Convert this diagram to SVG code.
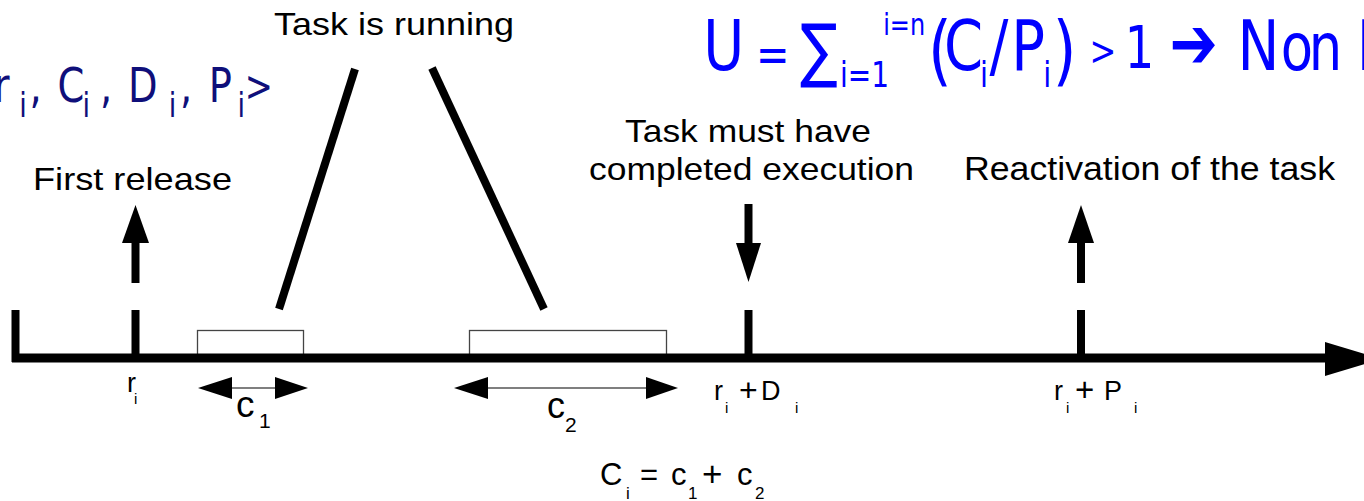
<svg xmlns="http://www.w3.org/2000/svg" width="1364" height="501" viewBox="0 0 1364 501">
<style>
.lbl{font-family:"Liberation Sans",Arial,sans-serif;fill:#000;}
.blue{font-family:"DejaVu Sans",sans-serif;}
.thick{stroke:#000;stroke-width:8;fill:none;}
.box{fill:#fff;stroke:#444;stroke-width:1.3;}
.dim{stroke:#555;stroke-width:1.5;fill:none;}
.head{fill:#000;}
</style>
<rect width="1364" height="501" fill="#fff"/>

<g id="tuple">
<text class="blue" transform="scale(0.8,1)" fill="#0f0f7a" font-size="48"><tspan x="-48" y="102">&lt;r</tspan><tspan x="24" y="117" font-size="34">i</tspan><tspan x="37" y="102">,</tspan><tspan x="72" y="102">C</tspan><tspan x="103" y="117" font-size="34">i</tspan><tspan x="125" y="102">,</tspan><tspan x="160" y="102">D</tspan><tspan x="211" y="117" font-size="34">i</tspan><tspan x="225" y="102">,</tspan><tspan x="261" y="102">P</tspan><tspan x="297" y="117" font-size="34">i</tspan><tspan x="306" y="101" font-size="42">&gt;</tspan></text>
</g>

<g id="formula">
<text class="blue" transform="scale(0.8,1)" fill="#0000ff" font-size="70"><tspan x="879" y="70">U</tspan><tspan x="945" y="72" font-size="50">=</tspan><tspan x="1000" y="74">∑</tspan><tspan x="1050" y="87" font-size="35">i=1</tspan><tspan x="1104" y="35" font-size="30">i=n</tspan><tspan x="1160" y="76" font-size="76">(</tspan><tspan x="1180" y="70">C</tspan><tspan x="1225" y="87" font-size="36">i</tspan><tspan x="1237" y="70">/</tspan><tspan x="1264" y="70">P</tspan><tspan x="1304" y="87" font-size="36">i</tspan><tspan x="1316" y="76" font-size="76">)</tspan><tspan x="1362" y="65" font-size="40">&gt;</tspan><tspan x="1406" y="68" font-size="58">1</tspan><tspan x="1462" y="68" font-size="72" font-weight="bold">➔</tspan><tspan x="1547" y="70">N</tspan><tspan x="1601" y="70" font-size="66">o</tspan><tspan x="1636" y="70" font-size="66">n</tspan><tspan x="1696" y="70">I</tspan></text>
</g>

<g id="running">
<text class="lbl" x="274" y="35" font-size="32" textLength="240" lengthAdjust="spacingAndGlyphs">Task is running</text>
<line class="thick" x1="355" y1="69" x2="279" y2="309"/>
<line class="thick" x1="432" y1="68" x2="544" y2="309"/>
<rect class="box" x="197.5" y="330.5" width="106" height="26"/>
<rect class="box" x="469.5" y="330.5" width="197" height="26"/>
</g>

<g id="axis">
<line class="thick" x1="15.5" y1="310" x2="15.5" y2="362"/>
<line x1="12" y1="358" x2="1330" y2="358" stroke="#000" stroke-width="9"/>
<polygon class="head" points="1325,342 1382,359 1325,376"/>
</g>

<g id="release">
<text class="lbl" x="33" y="190" font-size="32" textLength="199" lengthAdjust="spacingAndGlyphs">First release</text>
<polygon class="head" points="122,243 149,243 135.5,205"/>
<line class="thick" x1="135.5" y1="242" x2="135.5" y2="283"/>
<line class="thick" x1="135.5" y1="310" x2="135.5" y2="358"/>
<text class="lbl" font-size="27"><tspan x="127" y="392">r</tspan><tspan x="134" y="404" font-size="15">i</tspan></text>
</g>

<g id="deadline">
<text class="lbl" x="625" y="142" font-size="32" textLength="246" lengthAdjust="spacingAndGlyphs">Task must have</text>
<text class="lbl" x="589" y="180" font-size="32" textLength="325" lengthAdjust="spacingAndGlyphs">completed execution</text>
<line class="thick" x1="748.5" y1="204" x2="748.5" y2="244"/>
<polygon class="head" points="736,243 761,243 748.5,282"/>
<line class="thick" x1="748.5" y1="310" x2="748.5" y2="358"/>
<text class="lbl" font-size="27"><tspan x="714" y="400">r</tspan><tspan x="725" y="413" font-size="15">i</tspan><tspan x="739" y="401" font-size="32">+</tspan><tspan x="761" y="400">D</tspan><tspan x="795" y="413" font-size="15">i</tspan></text>
</g>

<g id="reactivation">
<text class="lbl" x="964" y="180" font-size="34" textLength="371" lengthAdjust="spacingAndGlyphs">Reactivation of the task</text>
<polygon class="head" points="1068,243 1094,243 1081,205"/>
<line class="thick" x1="1081" y1="242" x2="1081" y2="283"/>
<line class="thick" x1="1081" y1="310" x2="1081" y2="358"/>
<text class="lbl" font-size="27"><tspan x="1054" y="400">r</tspan><tspan x="1066" y="413" font-size="15">i</tspan><tspan x="1075" y="401" font-size="33">+</tspan><tspan x="1104" y="400">P</tspan><tspan x="1134" y="413" font-size="15">i</tspan></text>
</g>

<g id="c1">
<line class="dim" x1="230" y1="388" x2="277" y2="388"/>
<polygon class="head" points="198,388 232,377 232,399"/>
<polygon class="head" points="308,388 275,377 275,399"/>
<text class="lbl" font-size="37"><tspan x="236" y="417">c</tspan><tspan x="259" y="428" font-size="21">1</tspan></text>
</g>

<g id="c2">
<line class="dim" x1="486" y1="388" x2="648" y2="388"/>
<polygon class="head" points="454,388 488,377 488,399"/>
<polygon class="head" points="678,388 646,377 646,399"/>
<text class="lbl" font-size="36"><tspan x="547" y="418">c</tspan><tspan x="565" y="432" font-size="21">2</tspan></text>
</g>

<g id="sum">
<text class="lbl" font-size="31"><tspan x="600" y="485">C</tspan><tspan x="626" y="499" font-size="17">i</tspan><tspan x="640" y="485">=</tspan><tspan x="671" y="485">c</tspan><tspan x="688" y="499" font-size="17">1</tspan><tspan x="702" y="486" font-size="35">+</tspan><tspan x="737" y="485">c</tspan><tspan x="755" y="499" font-size="17">2</tspan></text>
</g>
</svg>
